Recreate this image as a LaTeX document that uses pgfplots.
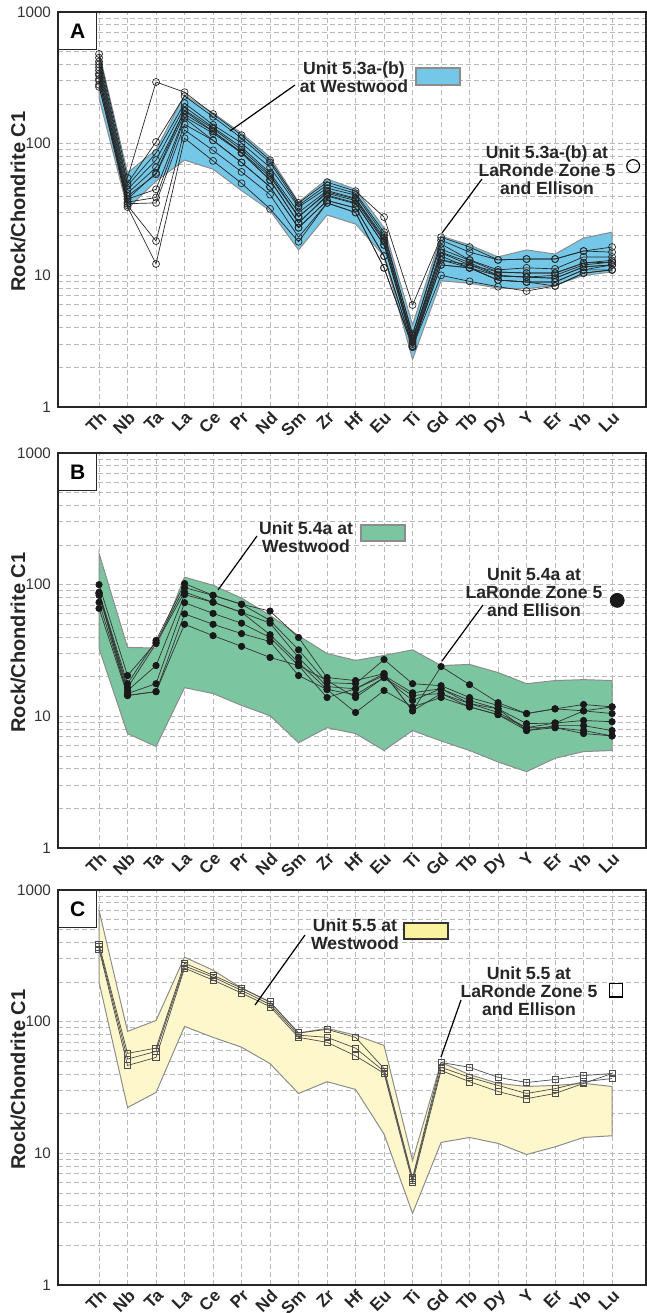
\documentclass[border=0pt]{standalone}
\usepackage{pgfplots}
\pgfplotsset{compat=1.18}
\usepackage{pgfplotstable}
\usepackage{fontspec}
\setmainfont{Liberation Sans}

\definecolor{envA}{HTML}{74C7E6}
\definecolor{envB}{HTML}{7BC5A1}
\definecolor{envC}{HTML}{FFF7CC}
\definecolor{swC}{HTML}{FBF2A0}
\definecolor{edge}{HTML}{8C8C8C}

% x: 0 Th,1 Nb,2 Ta,3 La,4 Ce,5 Pr,6 Nd,7 Sm,8 Zr,9 Hf,10 Eu,11 Ti,12 Gd,13 Tb,14 Dy,15 Y,16 Er,17 Yb,18 Lu
\pgfplotstableread{
x  s1   s2   s3   s4   s5   s6   s7   s8   s9   s10  s11  s12
0  480  450  420  400  380  360  340  330  310  300  280  270
1  55   50   48   45   42   40   38   36   35   34   33   38
2  294  103  85   75   66   58.5 45   39   35.5 18.2 12.2 60
3  246  230  203  190  177  168  160  156  140  127  110  180
4  168  160  139  133  124  124  120  106  106  89   74   130
5  116  110  101  94   86   85   85   72   72   61   50   90
6  75   72   66   60   56   53   53   47   47   41   32   58
7  35.5 34   33   30   27.7 25   25   23   23   19.5 18   28
8  51   48.5 46   44   43   40.7 40   37   37   35.5 35.5 42
9  43.6 42   40.7 38.5 38   35.5 35   32.5 32.5 30   30   37
10 27.7 21.3 20.2 19.2 18.5 17   17   14   14   11.4 11.4 18
11 5.95 3.5  3.6  3.3  3.2  3.1  3.0  2.9  2.9  2.85 2.85 3.3
12 19.5 18.5 17.3 15.8 14.8 14   13.1 13.1 12   12   10   15
13 16.4 15   13.1 13   12   11.4 12   11.4 11.4 11.4 9    12.5
14 13.1 13.1 11   10.6 10.6 9.9  9.9  9.2  9.2  9.2  8.2  10
15 13.3 13.3 11.4 10.4 10.4 9.7  9.7  8.9  8.9  8.9  7.6  9.7
16 13.3 13.3 11.2 10.4 10.4 9.5  9.5  8.9  8.9  8.3  8.3  10
17 15.3 15.3 13.8 12.4 12.4 11.6 11.6 11   11   10.4 10.4 12
18 16.4 15   13.8 12.6 13   12   12   11   12   11   11   12.6
}\dataA

\pgfplotstableread{
x  s1   s2   s3   s4   s5   s6   s7
0  87.5 100  86   83   73.5 66   86
1  17.7 20.4 16.5 15.7 14.9 14.4 14.4
2  37.7 36.4 35.7 24.3 17.7 15.4 15.4
3  102  95   88   84   73   60   50
4  83   83   73.5 73.5 60.5 50   41
5  71   71   61.7 61.7 51   42.5 34
6  63   53.5 51   41.7 39.7 37   28
7  39.7 32   28   25.6 24.3 20.4 24.3
8  19.7 18   16.8 16   18.7 16   13.9
9  18.7 17.7 16.2 14.6 13.9 10.7 16.2
10 21.1 27   20.4 19.7 19.7 15.7 21.1
11 11   17.7 15.1 14.4 13.2 11.8 11
12 23.9 17.1 16.2 14.9 16.2 13.9 14.9
13 17.4 13.9 13.2 12.5 12.5 11.8 11.8
14 12.7 12.1 11.4 10.7 11.4 10.3 10.3
15 10.5 10.5 8.8  8.2  7.8  8.2  7.8
16 11.4 11.4 8.9  8.9  8.5  8.2  8.2
17 12.3 11   11   9.3  8.5  7.8  7.4
18 11.8 11.8 10.5 9.1  7.8  7.1  7.1
}\dataB

\pgfplotstableread{
x  s1   s2   s3
0  387  370  355
1  57.5 52   46.5
2  63   59.5 53.5
3  278  265  255
4  225  218  207
5  180  173  165
6  141  135  130
7  82   79   76
8  87.5 76   69.7
9  76   63   55
10 44   42   40.5
11 6.5  6.3  6.0
12 49   45   42.6
13 45   37.8 35
14 37.8 32.8 29.5
15 34.5 28.5 26
16 36.4 31   28.5
17 39   35   34
18 40.4 37   40.4
}\dataC

% same frame for all three panels
\pgfplotsset{
  scale only axis, width=294pt, height=197.5pt,
  ymin=1, ymax=1000,
  xmin=-1.44, xmax=19.19,
  xtick={0,...,18},
  xticklabels={Th,Nb,Ta,La,Ce,Pr,Nd,Sm,Zr,Hf,Eu,Ti,Gd,Tb,Dy,Y,Er,Yb,Lu},
  xticklabel style={rotate=45, anchor=north east, inner sep=1pt,
    font=\fontsize{8.5}{9}\selectfont\bfseries, text=black!85},
  ytick={1,10,100,1000}, yticklabels={1,10,100,1000},
  yticklabel style={font=\fontsize{7.6}{8}\selectfont, text=black!80},
  major tick length=0pt, minor tick length=0pt,
  xmajorgrids, ymajorgrids, yminorgrids,
  grid style={gray!55, line width=0.4pt, dash pattern=on 2.5pt off 1.5pt},
  axis line style={black!85, line width=0.8pt},
  ylabel={Rock/Chondrite C1},
  ylabel style={font=\fontsize{10}{12}\selectfont\bfseries, text=black!85,
    at={(axis description cs:-0.068,0.52)}, anchor=center},
}

\tikzset{
  panel/.style={draw=black!85, fill=white, line width=0.6pt, anchor=north west,
    minimum width=19pt, minimum height=18.5pt, inner sep=0pt,
    font=\fontsize{10.5}{12}\selectfont\bfseries},
  note/.style={font=\fontsize{8.8}{9}\selectfont\bfseries, align=center,
    text=black!85, inner sep=0pt},
}

\begin{document}
\begin{tikzpicture}
\useasboundingbox (0,0) rectangle (323.5pt,-656.5pt);

% ---------------- A
\begin{axis}[ymode=log, at={(29pt,-6pt)}, anchor=north west]
\addplot[fill=envA, draw=edge, line width=0.5pt] coordinates {
(0,496) (1,60) (2,90) (3,234) (4,171) (5,120) (6,79) (7,36) (8,54) (9,45)
(10,23) (11,4.2) (12,19.9) (13,17) (14,13.8) (15,15.6) (16,14.5) (17,19.2) (18,21.3)
(18,10.6) (17,10) (16,8.4) (15,7.9) (14,8.0) (13,8.7) (12,9.1) (11,2.3) (10,14)
(9,24.5) (8,28.7) (7,15.6) (6,31) (5,44) (4,64) (3,75) (2,52) (1,32) (0,222)} -- cycle;
\pgfplotsinvokeforeach{1,...,12}{
  \addplot[black!85, line width=0.35pt, mark=o, mark size=1.75pt,
    mark options={line width=0.35pt}] table[x=x, y=s#1] {\dataA};
}
\addplot[only marks, mark=o, mark size=3.2pt, mark options={black, line width=0.6pt}]
  coordinates {(18.74,67.6)};
\node[panel] at (rel axis cs:0,1) {A};
\end{axis}

% ---------------- B
\begin{axis}[ymode=log, at={(29pt,-226.5pt)}, anchor=north west]
\addplot[fill=envB, draw=edge, line width=0.5pt] coordinates {
(0,173) (1,33.4) (2,33) (3,114) (4,99) (5,79) (6,58.5) (7,41) (8,30) (9,26.6)
(10,29) (11,32) (12,24.3) (13,24.8) (14,21.5) (15,17.7) (16,18.7) (17,19) (18,18.7)
(18,5.5) (17,5.4) (16,4.8) (15,3.8) (14,4.5) (13,5.5) (12,6.5) (11,7.8) (10,5.5)
(9,7.4) (8,8.2) (7,6.3) (6,10.1) (5,12.1) (4,14.9) (3,16.5) (2,5.9) (1,7.4) (0,32.8)} -- cycle;
\pgfplotsinvokeforeach{1,...,7}{
  \addplot[black!80, line width=0.35pt, mark=*, mark size=1.6pt,
    mark options={black!90}] table[x=x, y=s#1] {\dataB};
}
\addplot[only marks, mark=*, mark size=3.5pt, mark options={black!90}]
  coordinates {(18.18,76)};
\node[panel] at (rel axis cs:0,1) {B};
\end{axis}

% ---------------- C
\begin{axis}[ymode=log, at={(29pt,-445pt)}, anchor=north west]
\addplot[fill=envC, draw=edge, line width=0.5pt] coordinates {
(0,700) (1,84.5) (2,102) (3,309) (4,246) (5,180) (6,141) (7,82) (8,89) (9,79)
(10,66) (11,8.8) (12,49) (13,39.6) (14,34) (15,32.2) (16,32.8) (17,34) (18,32.2)
(18,13.6) (17,13.2) (16,11.2) (15,9.8) (14,11.9) (13,13.2) (12,12.1) (11,3.5) (10,14)
(9,30.6) (8,35) (7,28.5) (6,48) (5,64) (4,76) (3,92) (2,29) (1,22.3) (0,200)} -- cycle;
\pgfplotsinvokeforeach{1,...,3}{
  \addplot[black!70, line width=0.35pt, mark=square, mark size=1.6pt,
    mark options={line width=0.35pt}] table[x=x, y=s#1] {\dataC};
}
\addplot[only marks, mark=square, mark size=3.3pt, mark options={black, line width=0.6pt}]
  coordinates {(18.14,173)};
\node[panel] at (rel axis cs:0,1) {C};
\end{axis}

% notes, in pixel units of the page
\begin{scope}[x=0.5pt, y=-0.5pt]
\node[note] at (354,77) {Unit 5.3a-(b)\\at Westwood};
\filldraw[fill=envA, draw=edge, line width=0.6pt] (416,68) rectangle (460,85);
\draw[black, line width=0.6pt] (295,85) -- (230,131);
\node[note] at (547,170) {Unit 5.3a-(b) at\\LaRonde Zone 5\\and Ellison};
\draw[black, line width=0.6pt] (482,179) -- (442,233);

\node[note] at (306,537) {Unit 5.4a at\\Westwood};
\filldraw[fill=envB, draw=edge, line width=0.6pt] (361,525) rectangle (405,541);
\draw[black, line width=0.6pt] (257,536) -- (218,590);
\node[note] at (534,592) {Unit 5.4a at\\LaRonde Zone 5\\and Ellison};
\draw[black, line width=0.6pt] (483,605) -- (442,661);

\node[note] at (355,934) {Unit 5.5 at\\Westwood};
\filldraw[fill=swC, draw=black!80, line width=0.6pt] (404,923) rectangle (448,939);
\draw[black, line width=0.6pt] (305,935) -- (255,1005);
\node[note] at (529,991) {Unit 5.5 at\\LaRonde Zone 5\\and Ellison};
\draw[black, line width=0.6pt] (461,1000) -- (441,1057);
\end{scope}
\end{tikzpicture}
\end{document}
